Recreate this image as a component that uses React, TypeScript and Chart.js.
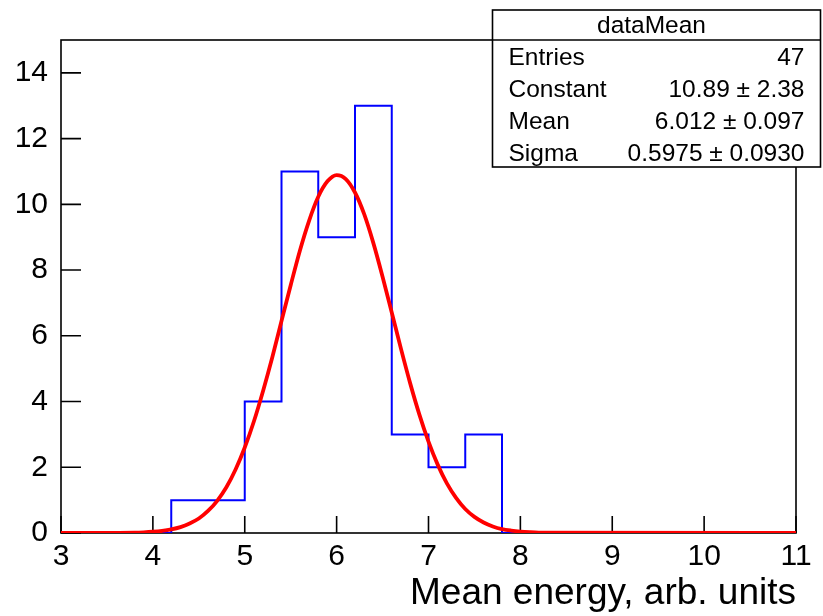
import React, { useEffect, useRef } from "react";
import { Chart, registerables } from "chart.js";

Chart.register(...registerables);

// Histogram bin edges (x) and bin contents
const binEdges = [3.0, 3.4, 3.8, 4.2, 4.6, 5.0, 5.4, 5.8, 6.2, 6.6, 7.0, 7.4, 7.8, 8.2, 8.6, 9.0, 9.4, 9.8, 10.2, 10.6, 11.0];
const binCounts = [0, 0, 0, 1, 1, 4, 11, 9, 13, 3, 2, 3, 0, 0, 0, 0, 0, 0, 0, 0];

// Gaussian fit curve
const fitX = [3.0, 3.8, 3.9, 4.0, 4.1, 4.2, 4.3, 4.4, 4.5, 4.6, 4.7, 4.8, 4.9, 5.0, 5.1, 5.2, 5.3, 5.4, 5.5, 5.6, 5.7, 5.8, 5.9, 6.0, 6.1, 6.2, 6.3, 6.4, 6.5, 6.6, 6.7, 6.8, 6.9, 7.0, 7.1, 7.2, 7.3, 7.4, 7.5, 7.6, 7.7, 7.8, 7.9, 8.0, 8.1, 8.2, 11.0];
const fitY = [0, 0.012, 0.021, 0.038, 0.065, 0.11, 0.18, 0.29, 0.44, 0.67, 0.98, 1.39, 1.93, 2.6, 3.4, 4.33, 5.35, 6.45, 7.54, 8.59, 9.5, 10.23, 10.7, 10.89, 10.77, 10.36, 9.7, 8.82, 7.8, 6.71, 5.61, 4.56, 3.61, 2.78, 2.08, 1.51, 1.07, 0.73, 0.49, 0.32, 0.2, 0.12, 0.074, 0.043, 0.024, 0.013, 0];

// Axis ticks
const xTicks = [3, 4, 5, 6, 7, 8, 9, 10, 11];
const yTicks = [0, 2, 4, 6, 8, 10, 12, 14];

// Stats box contents
const statsTitle = "dataMean";
const statsLabels = ["Entries", "Constant", "Mean", "Sigma"];
const statsValues = ["47", "10.89 \u00b1 2.38", "6.012 \u00b1 0.097", "0.5975 \u00b1 0.0930"];

const xTitle = "Mean energy, arb. units";
const FONT = "'Liberation Sans', Arial, Helvetica, sans-serif";

const framePlugin = {
  id: "rootFrame",
  beforeDatasetsDraw(chart: any) {
    const { ctx, chartArea, scales } = chart;
    const { left, right, top, bottom } = chartArea;
    ctx.save();
    ctx.strokeStyle = "#000";
    ctx.lineWidth = 1.6;
    ctx.strokeRect(left, top, right - left, bottom - top);
    ctx.beginPath();
    xTicks.forEach((v) => {
      const px = scales.x.getPixelForValue(v);
      ctx.moveTo(px, bottom);
      ctx.lineTo(px, bottom - 17);
    });
    yTicks.forEach((v) => {
      const py = scales.y.getPixelForValue(v);
      ctx.moveTo(left, py);
      ctx.lineTo(left + 20, py);
    });
    ctx.stroke();
    ctx.restore();
  },
};

const statsPlugin = {
  id: "statsBox",
  afterDraw(chart: any) {
    const { ctx } = chart;
    const bx = 492.5, by = 10, bw = 328, bh = 157, titleH = 30, rowH = 32;
    ctx.save();
    ctx.fillStyle = "#fff";
    ctx.fillRect(bx, by, bw, bh);
    ctx.strokeStyle = "#000";
    ctx.lineWidth = 1.6;
    ctx.strokeRect(bx, by, bw, bh);
    ctx.beginPath();
    ctx.moveTo(bx, by + titleH);
    ctx.lineTo(bx + bw, by + titleH);
    ctx.stroke();
    ctx.fillStyle = "#000";
    ctx.font = `24.5px ${FONT}`;
    ctx.textBaseline = "middle";
    ctx.textAlign = "center";
    ctx.fillText(statsTitle, bx + bw / 2 - 5, by + titleH / 2 + 1);
    statsLabels.forEach((lab, i) => {
      const cy = by + titleH + 18 + i * rowH;
      ctx.textAlign = "left";
      ctx.fillText(lab, bx + 16, cy);
      ctx.textAlign = "right";
      ctx.fillText(statsValues[i], bx + bw - 16, cy);
    });
    ctx.restore();
  },
};

export default function App() {
  const ref = useRef<HTMLCanvasElement | null>(null);

  useEffect(() => {
    if (!ref.current) return;
    const histPoints = binEdges.map((e, i) => ({
      x: e,
      y: i < binCounts.length ? binCounts[i] : binCounts[binCounts.length - 1],
    }));
    const fitPoints = fitX.map((x, i) => ({ x, y: fitY[i] }));

    const chart = new Chart(ref.current, {
      type: "line",
      data: {
        datasets: [
          {
            label: "fit",
            data: fitPoints,
            borderColor: "#ff0000",
            borderWidth: 3.8,
            pointRadius: 0,
            fill: false,
            cubicInterpolationMode: "monotone",
          },
          {
            label: "dataMean",
            data: histPoints,
            borderColor: "#0000ff",
            borderWidth: 2,
            pointRadius: 0,
            fill: false,
            stepped: "before",
          },
        ],
      },
      options: {
        responsive: false,
        animation: false,
        events: [],
        layout: { padding: { top: 40, right: 27, left: 0, bottom: 0 } },
        plugins: {
          legend: { display: false },
          tooltip: { enabled: false },
          title: { display: false },
        },
        scales: {
          x: {
            type: "linear",
            min: 3,
            max: 11,
            grid: { display: false, drawTicks: false },
            border: { display: false },
            afterBuildTicks: (s: any) => {
              s.ticks = xTicks.map((v) => ({ value: v }));
            },
            afterFit: (s: any) => {
              s.height = 83;
            },
            ticks: {
              color: "#000",
              font: { family: FONT, size: 30 },
              padding: 6,
              maxRotation: 0,
              autoSkip: false,
            },
            title: {
              display: true,
              text: xTitle,
              align: "end",
              color: "#000",
              font: { family: FONT, size: 37 },
              padding: { top: 0, bottom: 0 },
            },
          },
          y: {
            type: "linear",
            min: 0,
            max: 15,
            grid: { display: false, drawTicks: false },
            border: { display: false },
            afterBuildTicks: (s: any) => {
              s.ticks = yTicks.map((v) => ({ value: v }));
            },
            afterFit: (s: any) => {
              s.width = 61;
            },
            ticks: {
              color: "#000",
              font: { family: FONT, size: 30 },
              padding: 13,
              autoSkip: false,
            },
          },
        },
      },
      plugins: [framePlugin, statsPlugin],
    } as any);

    return () => chart.destroy();
  }, []);

  return (
    <div style={{ position: "absolute", left: 0, top: 0, width: 823, height: 616, background: "#fff" }}>
      <canvas ref={ref} width={823} height={616} style={{ display: "block" }} />
    </div>
  );
}
